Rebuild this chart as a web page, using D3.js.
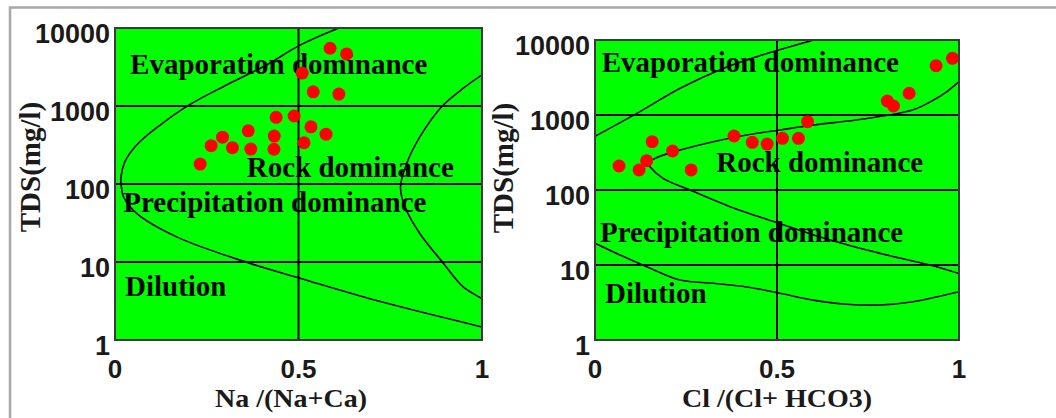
<!DOCTYPE html>
<html><head><meta charset="utf-8">
<script src="https://cdn.jsdelivr.net/npm/d3@7"></script>
<style>html,body{margin:0;padding:0;background:#fff;}svg{display:block;}</style>
</head><body>
<svg id="chart" width="1056" height="418"></svg>
<script>
// ---------- DATA ----------
const xTicks = [0, 0.5, 1];
const xTickLabels = ["0", "0.5", "1"];
const yTicks = [1, 10, 100, 1000, 10000];
const yTickLabels = ["1", "10", "100", "1000", "10000"];
const yTitle = "TDS(mg/l)";

// Panel A: Na/(Na+Ca)
const naTitle = "Na /(Na+Ca)";
const naRatio = [0.586, 0.631, 0.510, 0.540, 0.610, 0.439, 0.488, 0.363, 0.534, 0.575, 0.293, 0.434, 0.262, 0.320, 0.370, 0.433, 0.515, 0.232];
const naTDS   = [5500, 4650, 2640, 1520, 1420, 716, 745, 480, 540, 435, 398, 412, 310, 292, 280, 279, 338, 180];
const naOuterX = [0.61, 0.504, 0.413, 0.304, 0.200, 0.123, 0.059, 0.027, 0.016, 0.018, 0.023, 0.059, 0.168, 0.368, 0.504, 0.713, 1.0];
const naOuterY = [10000, 6030, 3360, 1860, 1020, 570, 316, 193, 117, 88, 69, 42, 21, 9.6, 6.2, 3.2, 1.47];
const naInnerX = [1.0, 0.949, 0.89, 0.831, 0.795, 0.778, 0.790, 0.831, 0.895, 0.949, 1.0];
const naInnerY = [2510, 1690, 980, 404, 184, 92, 51, 23, 9.6, 4.8, 3.4];

// Panel B: Cl/(Cl+HCO3)
const clTitle = "Cl /(Cl+ HCO3)";
const clRatio = [0.066, 0.121, 0.142, 0.157, 0.213, 0.264, 0.382, 0.432, 0.473, 0.515, 0.559, 0.584, 0.803, 0.820, 0.863, 0.937, 0.982];
const clTDS   = [209, 185, 246, 441, 331, 185, 525, 432, 410, 489, 489, 815, 1537, 1318, 1950, 4540, 5700];
const clUpperX = [0, 0.115, 0.234, 0.352, 0.472, 0.591, 0.6];
const clUpperY = [520, 1050, 2270, 4170, 6600, 9700, 10000];
const clMidX = [1.0, 0.966, 0.93, 0.874, 0.737, 0.6, 0.508, 0.417, 0.325, 0.234, 0.169, 0.146, 0.151, 0.187, 0.261, 0.371, 0.505, 0.646, 0.783, 0.920, 1.0];
const clMidY = [2780, 2040, 1585, 1175, 885, 736, 631, 541, 441, 341, 269, 227, 204, 143, 100, 60, 36, 21.5, 14.3, 10, 7.7];
const clLowX = [0, 0.069, 0.142, 0.234, 0.325, 0.417, 0.508, 0.6, 0.691, 0.783, 0.874, 1.0];
const clLowY = [19.5, 13.6, 9.5, 6.3, 5.7, 5.1, 4.2, 3.4, 3.0, 2.93, 3.24, 4.4];

// Region labels (text + anchor in data coords)
const regionNames = ["Evaporation dominance", "Rock dominance", "Precipitation dominance", "Dilution"];
const naLabelX = [0.041, 0.359, 0.0226, 0.0272];
const naLabelY = [2570, 124, 44.2, 3.66];
const clLabelX = [0.0184, 0.333, 0.0137, 0.0275];
const clLabelY = [3780, 175, 20.5, 3.08];

// ---------- DRAW ----------
const svg = d3.select("#chart");

// outer frame
svg.append("path")
  .attr("d", "M10,418 L10,7.5 L1056,7.5")
  .attr("fill", "none").attr("stroke", "#a8a8a8").attr("stroke-width", 2.5);

const panels = [
  { id: "na", box: [115, 482, 28, 340], px: naRatio, py: naTDS,
    curves: [[naOuterX, naOuterY], [naInnerX, naInnerY]],
    lx: naLabelX, ly: naLabelY, title: naTitle, titleX: 291, yTitleX: 40, yTitleY: 167 },
  { id: "cl", box: [595, 959, 40, 340], px: clRatio, py: clTDS,
    curves: [[clUpperX, clUpperY], [clMidX, clMidY], [clLowX, clLowY]],
    lx: clLabelX, ly: clLabelY, title: clTitle, titleX: 777, yTitleX: 513, yTitleY: 168 }
];

const tickFont = "'Liberation Sans', Arial, sans-serif";
const serif = "'Liberation Serif', 'Times New Roman', serif";

panels.forEach(p => {
  const [x0, x1, y0, y1] = p.box;
  const x = d3.scaleLinear().domain([0, 1]).range([x0, x1]);
  const y = d3.scaleLog().domain([1, 10000]).range([y1, y0]);
  const g = svg.append("g");

  g.append("clipPath").attr("id", "clip-" + p.id)
    .append("rect").attr("x", x0).attr("y", y0).attr("width", x1 - x0).attr("height", y1 - y0);

  g.append("rect").attr("x", x0).attr("y", y0).attr("width", x1 - x0).attr("height", y1 - y0)
    .attr("fill", "#00ff00");

  // grid lines
  g.selectAll(".hg").data(yTicks.slice(1, -1)).enter().append("line")
    .attr("x1", x0).attr("x2", x1).attr("y1", d => y(d)).attr("y2", d => y(d))
    .attr("stroke", "#000").attr("stroke-width", 2);
  g.append("line").attr("x1", x(0.5)).attr("x2", x(0.5)).attr("y1", y0).attr("y2", y1)
    .attr("stroke", "#000").attr("stroke-width", 2);

  // boundary curves
  const line = d3.line().x(d => x(d[0])).y(d => y(d[1])).curve(d3.curveCatmullRom.alpha(0.5));
  const cg = g.append("g").attr("clip-path", "url(#clip-" + p.id + ")");
  p.curves.forEach(([cx, cy]) => {
    cg.append("path").datum(cx.map((v, i) => [v, cy[i]]))
      .attr("d", line).attr("fill", "none").attr("stroke", "#000").attr("stroke-width", 1.6);
  });

  // region labels
  g.selectAll(".rl").data(regionNames).enter().append("text")
    .attr("x", (d, i) => x(p.lx[i])).attr("y", (d, i) => y(p.ly[i]))
    .attr("font-family", serif).attr("font-weight", "bold").attr("font-size", 29)
    .attr("fill", "#000").text(d => d);

  // points
  g.selectAll(".pt").data(p.px.map((v, i) => [v, p.py[i]])).enter().append("circle")
    .attr("cx", d => x(d[0])).attr("cy", d => y(d[1])).attr("r", 6.5).attr("fill", "#ff0000");

  // border
  g.append("rect").attr("x", x0).attr("y", y0).attr("width", x1 - x0).attr("height", y1 - y0)
    .attr("fill", "none").attr("stroke", "#3a3a3a").attr("stroke-width", 2);

  // y tick labels
  g.selectAll(".yt").data(yTicks).enter().append("text")
    .attr("x", x0 - 5).attr("y", d => y(d) + 15)
    .attr("text-anchor", "end").attr("font-family", tickFont).attr("font-weight", "bold")
    .attr("font-size", 27).attr("fill", "#1a1a1a").text((d, i) => yTickLabels[i]);

  // x tick labels
  g.selectAll(".xt").data(xTicks).enter().append("text")
    .attr("x", d => x(d)).attr("y", 378)
    .attr("text-anchor", "middle").attr("font-family", tickFont).attr("font-weight", "bold")
    .attr("font-size", 26).attr("fill", "#1a1a1a").text((d, i) => xTickLabels[i]);

  // axis titles (slightly wide glyphs as in the reference)
  g.append("text").attr("transform", `translate(${p.titleX},407) scale(1.12,1)`)
    .attr("text-anchor", "middle")
    .attr("font-family", serif).attr("font-weight", "bold").attr("font-size", 25)
    .attr("fill", "#1a1a1a").text(p.title);
  g.append("text").attr("transform", `translate(${p.yTitleX},${p.yTitleY}) rotate(-90)`)
    .attr("text-anchor", "middle")
    .attr("font-family", serif).attr("font-weight", "bold").attr("font-size", 29)
    .attr("fill", "#1a1a1a").text(yTitle);
});
</script>
</body></html>
